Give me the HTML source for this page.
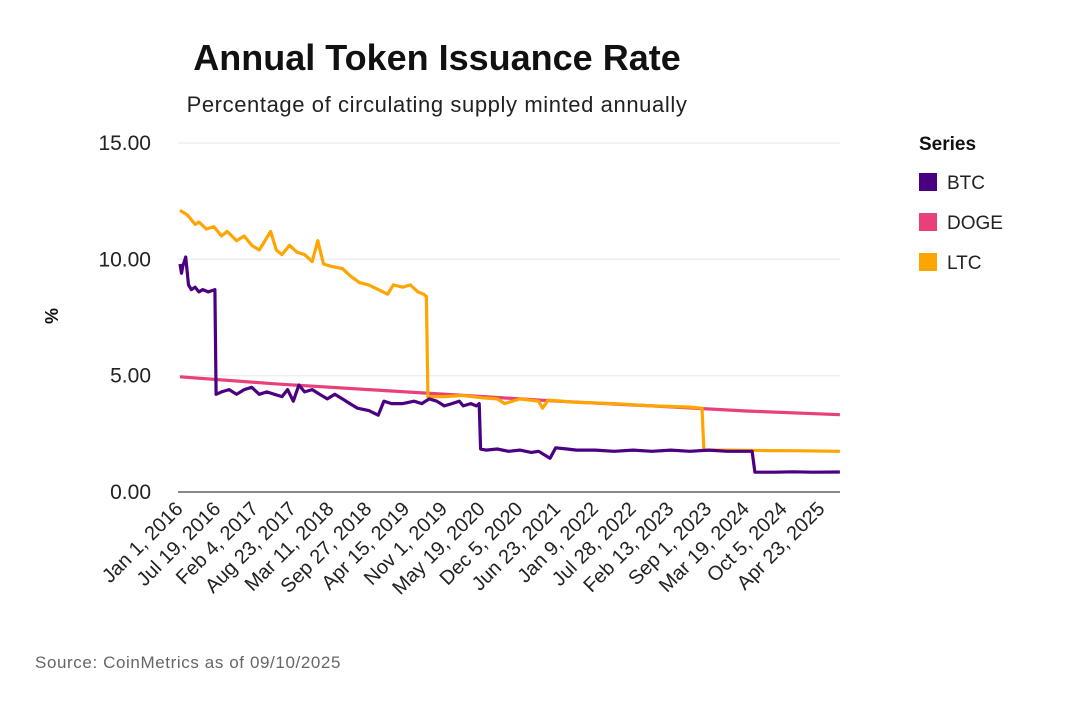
<!DOCTYPE html>
<html><head><meta charset="utf-8"><style>
body{margin:0;background:#fff;font-family:"Liberation Sans",sans-serif}
svg text{font-family:"Liberation Sans",sans-serif}
</style></head><body>
<svg width="1086" height="705" viewBox="0 0 1086 705">
<text x="437" y="70" text-anchor="middle" font-size="36" font-weight="bold" fill="#111">Annual Token Issuance Rate</text>
<text x="437" y="112" text-anchor="middle" font-size="22" letter-spacing="0.6" fill="#222">Percentage of circulating supply minted annually</text>
<g id="grid"></g>
<g id="yticks"></g>
<g id="xticks"></g>
<text transform="translate(58,316) rotate(-90)" text-anchor="middle" font-size="18" font-weight="bold" fill="#111">%</text>
<g id="series"></g>
<g>
<text x="919" y="150" font-size="19" font-weight="bold" fill="#111">Series</text>
<g><rect x="919" y="173" width="18" height="18" fill="#4b0082"/><text x="947" y="189" font-size="19" fill="#222">BTC</text></g>
<g><rect x="919" y="213" width="18" height="18" fill="#e8417a"/><text x="947" y="229" font-size="19" fill="#222">DOGE</text></g>
<g><rect x="919" y="253" width="18" height="18" fill="#ffa500"/><text x="947" y="269" font-size="19" fill="#222">LTC</text></g>
</g>
<text x="35" y="668" font-size="17" letter-spacing="0.6" fill="#666">Source: CoinMetrics as of 09/10/2025</text>
</svg>
<script>
const yTicks=[0,5,10,15];
const yTickLabels=["0.00","5.00","10.00","15.00"];
const xTickDays=[0,200,400,600,800,1000,1200,1400,1600,1800,2000,2200,2400,2600,2800,3000,3200,3400];
const xTickLabels=["Jan 1, 2016","Jul 19, 2016","Feb 4, 2017","Aug 23, 2017","Mar 11, 2018","Sep 27, 2018","Apr 15, 2019","Nov 1, 2019","May 19, 2020","Dec 5, 2020","Jun 23, 2021","Jan 9, 2022","Jul 28, 2022","Feb 13, 2023","Sep 1, 2023","Mar 19, 2024","Oct 5, 2024","Apr 23, 2025"];
const btcDays=[0,8,15,30,45,60,80,100,120,150,185,191,220,260,300,340,380,420,460,500,540,570,600,630,660,700,740,780,820,860,900,940,1000,1050,1080,1120,1180,1240,1280,1320,1360,1400,1440,1480,1500,1540,1570,1585,1592,1620,1680,1740,1800,1860,1900,1960,1990,2050,2100,2200,2300,2400,2500,2600,2700,2800,2900,3000,3030,3045,3150,3250,3350,3495];
const btcVals=[9.8,9.4,9.7,10.1,8.9,8.7,8.8,8.6,8.7,8.6,8.7,4.2,4.3,4.4,4.2,4.4,4.5,4.2,4.3,4.2,4.1,4.4,3.9,4.6,4.3,4.4,4.2,4.0,4.2,4.0,3.8,3.6,3.5,3.3,3.9,3.8,3.8,3.9,3.8,4.0,3.9,3.7,3.8,3.9,3.7,3.8,3.7,3.8,1.85,1.8,1.85,1.75,1.8,1.7,1.75,1.45,1.9,1.85,1.8,1.8,1.75,1.8,1.75,1.8,1.75,1.8,1.75,1.75,1.75,0.85,0.85,0.87,0.85,0.86];
const dogeDays=[0,500,1000,1500,2000,2500,3000,3495];
const dogeVals=[4.95,4.65,4.4,4.15,3.9,3.7,3.48,3.32];
const ltcDays=[0,40,80,100,140,180,220,250,300,340,380,420,450,480,510,540,580,620,660,700,730,760,800,860,900,950,1000,1050,1100,1130,1180,1220,1260,1290,1305,1313,1400,1500,1600,1680,1720,1800,1900,1920,1950,2100,2300,2500,2700,2765,2775,2900,3100,3300,3495];
const ltcVals=[12.1,11.9,11.5,11.6,11.3,11.4,11.0,11.2,10.8,11.0,10.6,10.4,10.8,11.2,10.4,10.2,10.6,10.3,10.2,9.9,10.8,9.8,9.7,9.6,9.3,9.0,8.9,8.7,8.5,8.9,8.8,8.9,8.6,8.5,8.4,4.1,4.1,4.15,4.05,4.0,3.8,4.0,3.9,3.6,3.95,3.85,3.8,3.7,3.65,3.6,1.8,1.8,1.78,1.77,1.75];
const X=d=>180+d*0.1888, Y=v=>492-v*23.27;
const NS="http://www.w3.org/2000/svg";
const g=document.getElementById('grid'),yt=document.getElementById('yticks'),xt=document.getElementById('xticks'),sg=document.getElementById('series');
yTicks.forEach((t,i)=>{
 const l=document.createElementNS(NS,'line');
 l.setAttribute('x1',178);l.setAttribute('x2',840);l.setAttribute('y1',Y(t));l.setAttribute('y2',Y(t));
 l.setAttribute('stroke',t===0?'#888':'#eee');l.setAttribute('stroke-width',t===0?2:1.5);
 
 
 g.appendChild(l);
 const tx=document.createElementNS(NS,'text');
 tx.setAttribute('x',151);tx.setAttribute('y',Y(t)+7);tx.setAttribute('text-anchor','end');tx.setAttribute('font-size','21');tx.setAttribute('fill','#222');
 tx.textContent=yTickLabels[i];
 
 
 yt.appendChild(tx);
});
xTickDays.forEach((d,i)=>{
 const tx=document.createElementNS(NS,'text');
 tx.setAttribute('transform','translate('+(X(d)+4)+',510) rotate(-45)');
 tx.setAttribute('text-anchor','end');tx.setAttribute('font-size','20');tx.setAttribute('fill','#222');
 tx.textContent=xTickLabels[i];
 
 
 xt.appendChild(tx);
});
function line(days,vals,color,name){
 const p=document.createElementNS(NS,'path');
 p.setAttribute('d',days.map((d,i)=>(i?'L':'M')+X(d).toFixed(1)+','+Y(vals[i]).toFixed(1)).join(''));
 p.setAttribute('fill','none');p.setAttribute('stroke',color);p.setAttribute('stroke-width',3.2);p.setAttribute('stroke-linejoin','round');
 
 
 sg.appendChild(p);
}
line(dogeDays,dogeVals,'#e8417a','doge-line');
line(ltcDays,ltcVals,'#ffa500','ltc-line');
line(btcDays,btcVals,'#4b0082','btc-line');
</script>
</body></html>
